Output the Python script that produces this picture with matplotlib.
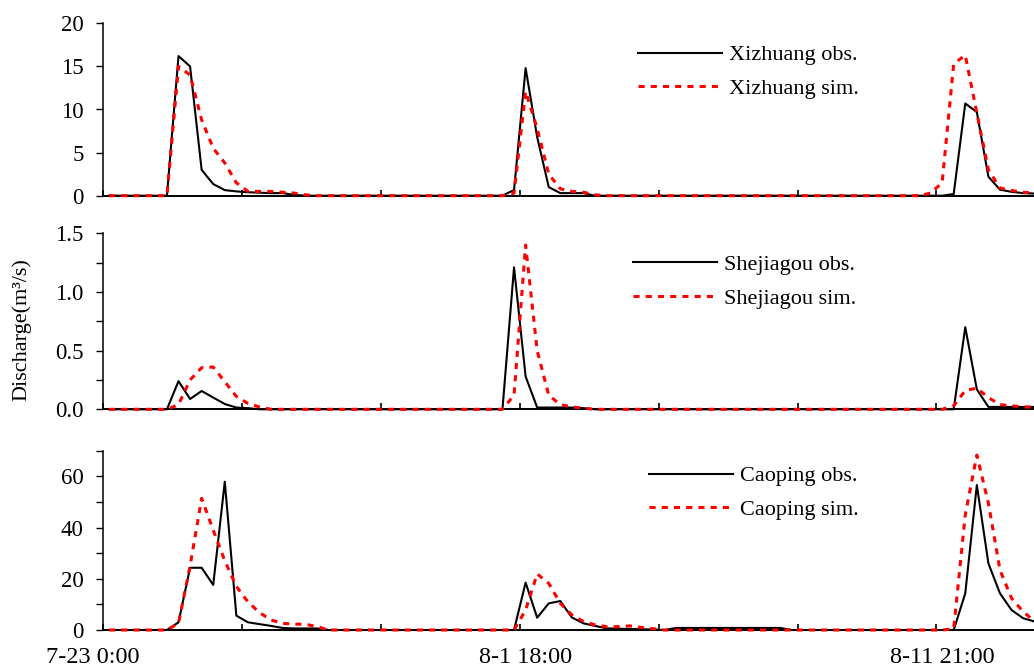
import numpy as np
import matplotlib
matplotlib.use("Agg")
import matplotlib.pyplot as plt
from matplotlib.ticker import MultipleLocator, FixedLocator, NullFormatter

# 数据（每个时段一个点，12个点一个刻度）
xz_obs = [0, 0, 0, 0, 0, 0, 16.2, 15.0, 3.0, 1.35, 0.65, 0.5,
          0.4, 0.35, 0.3, 0.3, 0.1, 0, 0, 0, 0, 0, 0, 0,
          0, 0, 0, 0, 0, 0, 0, 0, 0, 0, 0, 0.66,
          14.8, 6.8, 1.0, 0.3, 0.3, 0.3, 0, 0, 0, 0, 0, 0,
          0, 0, 0, 0, 0, 0, 0, 0, 0, 0, 0, 0,
          0, 0, 0, 0, 0, 0, 0, 0, 0, 0, 0, 0,
          0, 0.2, 10.7, 9.7, 2.2, 0.7, 0.45, 0.3, 0.25]
xz_sim = [0, 0, 0, 0, 0, 0, 15.0, 14.0, 8.8, 5.5, 3.8, 1.5,
          0.5, 0.5, 0.5, 0.4, 0.3, 0.1, 0, 0, 0, 0, 0, 0,
          0, 0, 0, 0, 0, 0, 0, 0, 0, 0, 0, 0.3,
          12.1, 7.8, 2.5, 0.8, 0.5, 0.4, 0.1, 0, 0, 0, 0, 0,
          0, 0, 0, 0, 0, 0, 0, 0, 0, 0, 0, 0,
          0, 0, 0, 0, 0, 0, 0, 0, 0, 0, 0, 0.3,
          1.5, 15.3, 16.3, 9.6, 3.0, 0.9, 0.6, 0.4, 0.3]

sj_obs = [0, 0, 0, 0, 0, 0, 0.24, 0.088, 0.156, 0.1, 0.045, 0.015,
          0.01, 0, 0, 0, 0, 0, 0, 0, 0, 0, 0, 0,
          0, 0, 0, 0, 0, 0, 0, 0, 0, 0, 0, 1.21,
          0.28, 0.015, 0.015, 0.015, 0.015, 0.01, 0, 0, 0, 0, 0, 0,
          0, 0, 0, 0, 0, 0, 0, 0, 0, 0, 0, 0,
          0, 0, 0, 0, 0, 0, 0, 0, 0, 0, 0, 0,
          0, 0, 0.70, 0.17, 0.02, 0.02, 0.02, 0.02, 0.02]
sj_sim = [0, 0, 0, 0, 0, 0, 0.04, 0.25, 0.355, 0.36, 0.235, 0.11,
          0.05, 0.02, 0, 0, 0, 0, 0, 0, 0, 0, 0, 0,
          0, 0, 0, 0, 0, 0, 0, 0, 0, 0, 0, 0.12,
          1.40, 0.50, 0.12, 0.04, 0.02, 0.01, 0, 0, 0, 0, 0, 0,
          0, 0, 0, 0, 0, 0, 0, 0, 0, 0, 0, 0,
          0, 0, 0, 0, 0, 0, 0, 0, 0, 0, 0, 0,
          0, 0.03, 0.16, 0.18, 0.10, 0.04, 0.03, 0.02, 0.02]

cp_obs = [0, 0, 0, 0, 0, 0, 3.0, 24.3, 24.3, 17.6, 57.9, 5.6,
          3.0, 2.3, 1.6, 0.8, 0.6, 0.6, 0.6, 0, 0, 0, 0, 0,
          0, 0, 0, 0, 0, 0, 0, 0, 0, 0, 0, 0,
          18.5, 4.8, 10.4, 11.3, 4.9, 2.6, 1.6, 0.65, 0.5, 0.4, 0.3, 0.2,
          0, 0.8, 0.8, 0.8, 0.8, 0.8, 0.8, 0.8, 0.8, 0.8, 0.8, 0,
          0, 0, 0, 0, 0, 0, 0, 0, 0, 0, 0, 0,
          0, 0, 14.3, 56.6, 26.0, 14.3, 7.8, 4.6, 3.3]
cp_sim = [0, 0, 0, 0, 0, 0, 2.6, 25.0, 51.4, 39.0, 27.0, 17.0,
          11.0, 6.8, 3.9, 2.6, 2.3, 2.2, 1.3, 0, 0, 0, 0, 0,
          0, 0, 0, 0, 0, 0, 0, 0, 0, 0, 0, 0,
          7.8, 21.9, 18.2, 10.4, 5.9, 3.3, 2.0, 1.3, 1.3, 1.6, 1.0, 0.5,
          0, 0, 0, 0, 0, 0, 0, 0, 0, 0, 0, 0,
          0, 0, 0, 0, 0, 0, 0, 0, 0, 0, 0, 0,
          0, 0.5, 45.0, 68.3, 49.5, 23.4, 12.4, 7.2, 3.3]

x_labels = ["7-23 0:00", "8-1 18:00", "8-11 21:00"]
x_label_pos = [-0.9, 36.5, 72.5]

stations = ["Xizhuang", "Shejiagou", "Caoping"]
obs_all = [xz_obs, sj_obs, cp_obs]
sim_all = [xz_sim, sj_sim, cp_sim]

# 画布
plt.rcParams["font.family"] = ["Liberation Serif", "DejaVu Serif"]
fig = plt.figure(figsize=(10.34, 6.70), dpi=100, facecolor="white")

W, H = 1034.0, 670.0
x0 = 103.3
# 每个子图的上下边（像素）
rows = [(23.3, 195.7), (233.3, 409.3), (450.7, 630.0)]
ylims = [(0, 20), (0, 1.5), (0, 70)]
major = [5, 0.5, 20]
minor = [5, 0.25, 10]
fmts = ["{:.0f}", "{:.1f}", "{:.0f}"]
leg_y = [52.3, 261.7, 473.3]
leg_x = [638, 633, 649]

x = np.arange(len(xz_obs)) + 0.5
xmax = (W - x0) / 11.57

for k in range(3):
    top, bot = rows[k]
    ax = fig.add_axes([x0 / W, 1 - bot / H, 1 - x0 / W, (bot - top) / H])
    ax.plot(x, obs_all[k], color="black", lw=1.5, label=stations[k] + " obs.",
            clip_on=False, zorder=3)
    ax.plot(x, sim_all[k], color="red", lw=2.2, dashes=(2.0, 2.0),
            label=stations[k] + " sim.", clip_on=False, zorder=4)
    ax.set_xlim(0, xmax)
    ax.set_ylim(*ylims[k])

    for s in ["top", "right"]:
        ax.spines[s].set_visible(False)
    ax.spines["left"].set_linewidth(1.1)
    ax.spines["bottom"].set_linewidth(1.4)

    # y轴刻度
    ax.yaxis.set_major_locator(MultipleLocator(major[k]))
    ax.yaxis.set_minor_locator(MultipleLocator(minor[k]))
    ax.set_yticklabels([fmts[k].format(v) for v in ax.get_yticks()])
    ax.set_ylim(*ylims[k])
    ax.tick_params(axis="y", which="both", direction="out", length=5, width=1.0,
                   labelsize=16.5, pad=9)

    # x轴刻度：12个点一格，朝内
    ax.xaxis.set_major_locator(FixedLocator(np.arange(0, 80, 12)))
    ax.xaxis.set_major_formatter(NullFormatter())
    ax.tick_params(axis="x", which="major", direction="in", length=4, width=1.2)

    # 时间标签只在最下面
    if k == 2:
        for pos, lab in zip(x_label_pos, x_labels):
            ax.text(pos, -0.095, lab, transform=ax.get_xaxis_transform(),
                    ha="center", va="top", fontsize=17.5, clip_on=False)

    ax.legend(loc="upper left", bbox_to_anchor=(leg_x[k] / W, 1 - (leg_y[k] - 7.5) / H),
              bbox_transform=fig.transFigure, frameon=False, fontsize=16,
              borderpad=0, borderaxespad=0, handlelength=3.8, handletextpad=0.3,
              labelspacing=0.6)

fig.text(22 / W, 1 - 330 / H, "Discharge(m³/s)", rotation=90, ha="center",
         va="center", fontsize=16)

plt.savefig("out.png", dpi=100)
